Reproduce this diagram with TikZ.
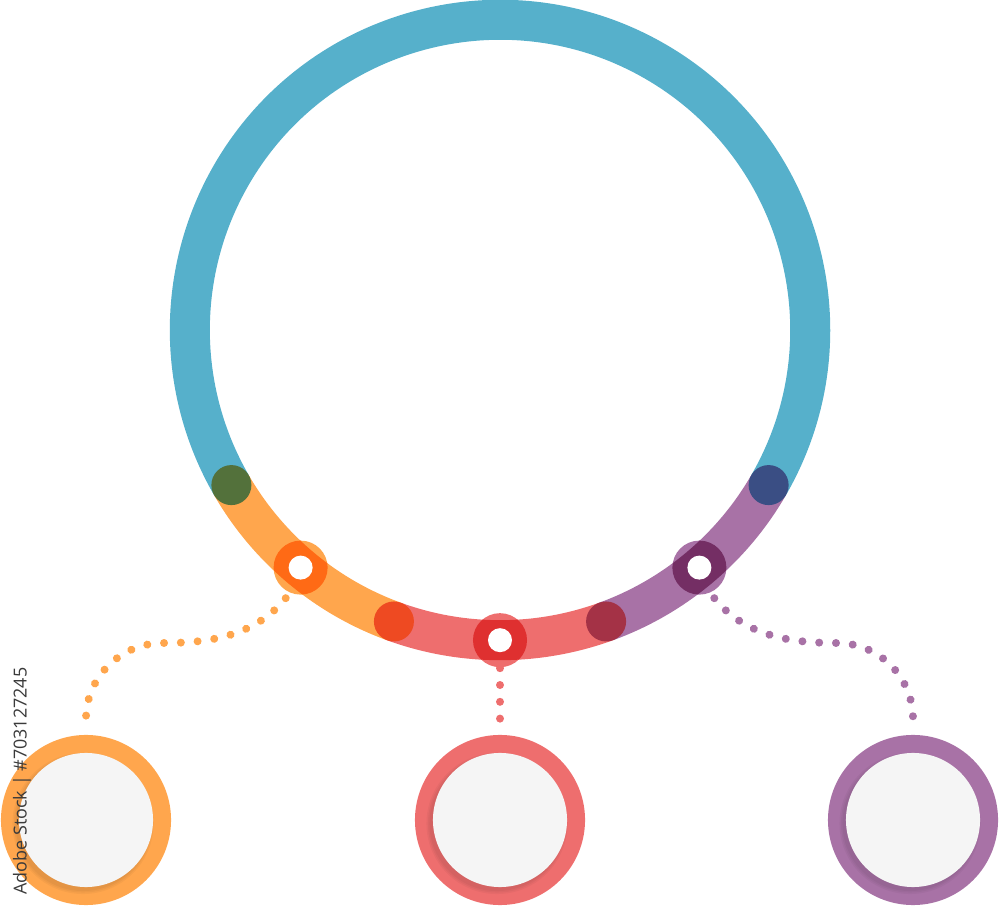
\documentclass[tikz,border=0pt]{standalone}
\usepackage{fontspec}
\newfontfamily\wmfont{Open Sans}
\usetikzlibrary{calc,decorations.markings}
\definecolor{ringblue}{HTML}{56B0CB}
\definecolor{ringorange}{HTML}{FFA64D}
\definecolor{ringred}{HTML}{EE6E6E}
\definecolor{ringpurple}{HTML}{A872A6}
\definecolor{dotgreen}{HTML}{53713B}
\definecolor{dotnavy}{HTML}{3A4E84}
\definecolor{dotvermil}{HTML}{EE4A22}
\definecolor{dotwine}{HTML}{A43246}
\definecolor{mkorange}{HTML}{FF6A15}
\definecolor{mkred}{HTML}{DF3030}
\definecolor{mkpurple}{HTML}{742E64}
\definecolor{innergray}{HTML}{F5F5F5}
\definecolor{wmgray}{HTML}{3A3A3A}
\begin{document}
\begin{tikzpicture}[x=0.01cm,y=0.01cm,
  seg/.style={line width=0.4cm},
  joint/.style={circle, inner sep=0pt, minimum size=0.4cm},
  marker/.style={circle, inner sep=0pt, minimum size=0.54cm, outer sep=0.07cm},
  hole/.style={circle, fill=white, inner sep=0pt, minimum size=0.24cm},
  bigcirc/.style={circle, inner sep=0pt, minimum size=1.7cm, outer sep=0.16cm},
  link/.style={draw=none, postaction=decorate,
    decoration={markings, mark=between positions 0 and 1 step 0.168cm with {\fill[#1] (0,0) circle (0.04cm);}}}]
\useasboundingbox (0,0) rectangle (1000,906);
\coordinate (c) at (500,576);
% ring segments
\draw[seg, ringblue]   ($(c)+(-30:3.1cm)$) arc[start angle=-30, end angle=210, radius=3.1cm];
\draw[seg, ringorange] ($(c)+(210:3.1cm)$) arc[start angle=210, end angle=250, radius=3.1cm];
\draw[seg, ringred]    ($(c)+(250:3.1cm)$) arc[start angle=250, end angle=290, radius=3.1cm];
\draw[seg, ringpurple] ($(c)+(290:3.1cm)$) arc[start angle=290, end angle=330, radius=3.1cm];
% joints
\node[joint, fill=dotgreen]  (j1) at ($(c)+(210:3.1cm)$) {};
\node[joint, fill=dotvermil] (j2) at ($(c)+(250:3.1cm)$) {};
\node[joint, fill=dotwine]   (j3) at ($(c)+(290:3.1cm)$) {};
\node[joint, fill=dotnavy]   (j4) at ($(c)+(330:3.1cm)$) {};
% markers
\node[marker, fill=ringorange] (mo) at ($(c)+(230:3.1cm)$) {};
\node[marker, fill=ringred, outer sep=0.01cm] (mr) at ($(c)+(270:3.1cm)$) {};
\node[marker, fill=ringpurple] (mp) at ($(c)+(310:3.1cm)$) {};
\begin{scope}
  \clip (mo) circle (0.27cm);
  \draw[seg, mkorange] ($(c)+(215:3.1cm)$) arc[start angle=215, end angle=245, radius=3.1cm];
\end{scope}
\begin{scope}
  \clip (mr) circle (0.27cm);
  \draw[seg, mkred] ($(c)+(255:3.1cm)$) arc[start angle=255, end angle=285, radius=3.1cm];
\end{scope}
\begin{scope}
  \clip (mp) circle (0.27cm);
  \draw[seg, mkpurple] ($(c)+(295:3.1cm)$) arc[start angle=295, end angle=325, radius=3.1cm];
\end{scope}
\node[hole] (ho) at (mo) {};
\node[hole] (hr) at (mr) {};
\node[hole] (hp) at (mp) {};
% bottom circles
\node[bigcirc, fill=ringorange] (bo) at (86,86) {};
\node[bigcirc, fill=ringred]    (br) at (500,86) {};
\node[bigcirc, fill=ringpurple] (bp) at (913,86) {};
\foreach \b in {bo,br,bp}{
  \foreach \r in {0.675,0.69,0.705}{
    \fill[black, opacity=0.035] ($(\b)+(-0.03cm,-0.035cm)$) circle (\r cm);
  }
  \fill[innergray] (\b) circle (0.67cm);
}
% dotted links
\path[link=ringorange] (mo.244) .. controls (255,270) and (210,263) .. (163,263)
      .. controls (121,263) and (86,229) .. (bo.north);
\path[link=ringred] (mr.south) -- (br.north);
\path[link=ringpurple] (mp.296) .. controls (745,270) and (790,263) .. (837,263)
      .. controls (879,263) and (913,229) .. (bp.north);
% watermark caption
\node[rotate=90, text=wmgray, inner sep=0pt, font=\wmfont\fontsize{5.1}{6}\selectfont] (wm) at (22,125) {Adobe Stock | \#703127245};
\end{tikzpicture}
\end{document}
